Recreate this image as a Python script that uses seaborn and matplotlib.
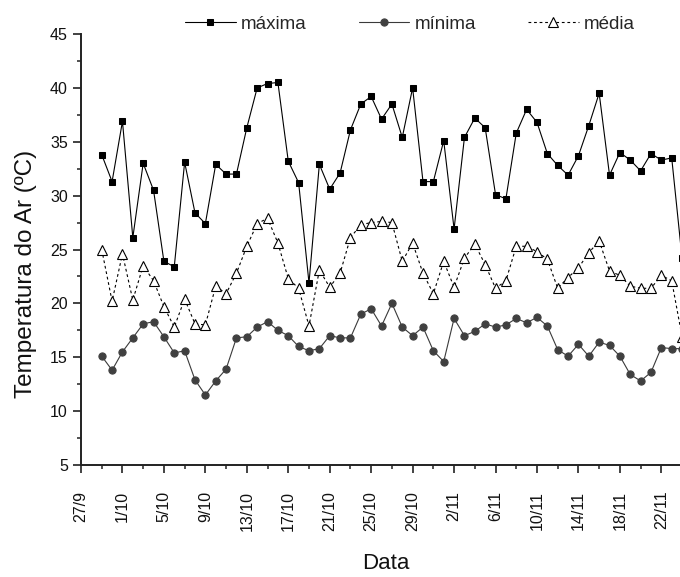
import numpy as np
import pandas as pd
import matplotlib
matplotlib.use("Agg")
import matplotlib.pyplot as plt
import seaborn as sns
from matplotlib.ticker import MultipleLocator, FixedLocator

# ---- data (day number counted from 27/9) ----
dias = list(range(2, 59))

maxima = [33.8, 31.3, 36.9, 26.1, 33.0, 30.5, 23.9, 23.4, 33.1, 28.4,
          27.4, 32.9, 32.0, 32.0, 36.3, 40.0, 40.4, 40.5, 33.2, 31.2,
          21.9, 32.9, 30.6, 32.1, 36.1, 38.5, 39.2, 37.1, 38.5, 35.4,
          40.0, 31.3, 31.3, 35.1, 26.9, 35.4, 37.2, 36.3, 30.1, 29.7,
          35.8, 38.0, 36.8, 33.9, 32.8, 31.9, 33.7, 36.5, 39.5, 31.9,
          34.0, 33.3, 32.3, 33.9, 33.3, 33.5, 24.2]

minima = [15.1, 13.8, 15.5, 16.8, 18.1, 18.3, 16.9, 15.4, 15.6, 12.9,
          11.5, 12.8, 13.9, 16.8, 16.9, 17.8, 18.3, 17.5, 17.0, 16.0,
          15.6, 15.8, 17.0, 16.8, 16.8, 19.0, 19.5, 17.9, 20.0, 17.8,
          17.0, 17.8, 15.6, 14.6, 18.6, 17.0, 17.4, 18.1, 17.8, 18.0,
          18.6, 18.2, 18.7, 17.9, 15.7, 15.1, 16.2, 15.1, 16.4, 16.1,
          15.1, 13.4, 12.8, 13.6, 15.9, 15.8, 15.8]

media = [25.0, 20.2, 24.6, 20.3, 23.5, 22.1, 19.7, 17.8, 20.4, 18.1,
         18.0, 21.6, 20.9, 22.8, 25.3, 27.4, 27.9, 25.6, 22.3, 21.4,
         17.9, 23.1, 21.5, 22.8, 26.1, 27.3, 27.5, 27.6, 27.5, 23.9,
         25.6, 22.8, 20.9, 23.9, 21.5, 24.2, 25.5, 23.6, 21.4, 22.1,
         25.3, 25.3, 24.8, 24.1, 21.4, 22.4, 23.3, 24.7, 25.8, 23.0,
         22.6, 21.6, 21.4, 21.4, 22.6, 22.1, 16.9]

tick_pos = [0, 4, 8, 12, 16, 20, 24, 28, 32, 36, 40, 44, 48, 52, 56]
tick_labels = ["27/9", "1/10", "5/10", "9/10", "13/10", "17/10", "21/10",
               "25/10", "29/10", "2/11", "6/11", "10/11", "14/11", "18/11",
               "22/11"]

df = pd.DataFrame({"dia": dias, "máxima": maxima, "mínima": minima, "média": media})

sns.set_theme(style="white")
plt.rcParams["font.family"] = ["Liberation Sans", "DejaVu Sans"]

fig = plt.figure(figsize=(6.8, 5.77), dpi=100)
W, H = 680, 577
ax = fig.add_axes([81 / W, 1 - 465 / H, (680 - 81) / W, (465 - 34) / H])

sns.lineplot(data=df, x="dia", y="máxima", ax=ax, color="black", lw=0.8,
             marker="s", markersize=4.8, markerfacecolor="black",
             markeredgecolor="black", label="máxima")
sns.lineplot(data=df, x="dia", y="mínima", ax=ax, color="#3a3a3a", lw=0.8,
             marker="o", markersize=5.2, markerfacecolor="#404040",
             markeredgecolor="#404040", label="mínima")
sns.lineplot(data=df, x="dia", y="média", ax=ax, color="black", lw=0.8,
             linestyle=(0, (2.5, 2.5)), marker="^", markersize=6.5,
             markerfacecolor="white", markeredgecolor="black",
             markeredgewidth=0.8, label="média")

ax.set_xlim(0, 57.8)
ax.set_ylim(5, 45)
ax.xaxis.set_major_locator(FixedLocator(tick_pos))
ax.set_xticklabels(tick_labels, rotation=90)
ax.xaxis.set_minor_locator(MultipleLocator(2))
ax.yaxis.set_major_locator(MultipleLocator(5))
ax.yaxis.set_minor_locator(MultipleLocator(2.5))

for s in ["top", "right"]:
    ax.spines[s].set_visible(False)
for s in ["left", "bottom"]:
    ax.spines[s].set_linewidth(1.4)
    ax.spines[s].set_color("#222222")

ax.tick_params(axis="both", which="major", direction="out", length=5.5,
               width=1.2, color="#222222", labelsize=11.5, labelcolor="#111111",
               bottom=True, left=True)
ax.tick_params(axis="both", which="minor", direction="out", length=2.8,
               width=1.1, color="#222222", bottom=True, left=True)
ax.tick_params(axis="x", which="major", pad=13)
ax.tick_params(axis="y", which="major", pad=4)
ax.grid(False)

ax.set_xlabel("Data", fontsize=16, color="#111111")
ax.set_ylabel("Temperatura do Ar (ºC)", fontsize=17.5, color="#111111")
ax.xaxis.set_label_coords((387 - 81) / 601, -(553 - 465) / 431)
ax.yaxis.set_label_coords(-(81 - 37) / 601, (465 - 274) / 431)

leg = ax.legend(loc="center left", bbox_to_anchor=(185 / W, 1 - 24 / H),
                bbox_transform=fig.transFigure, ncol=3, frameon=False,
                fontsize=13.5, handlelength=2.7, handletextpad=0.3,
                columnspacing=2.75, borderpad=0, borderaxespad=0)

fig.savefig("out.png", dpi=100)
